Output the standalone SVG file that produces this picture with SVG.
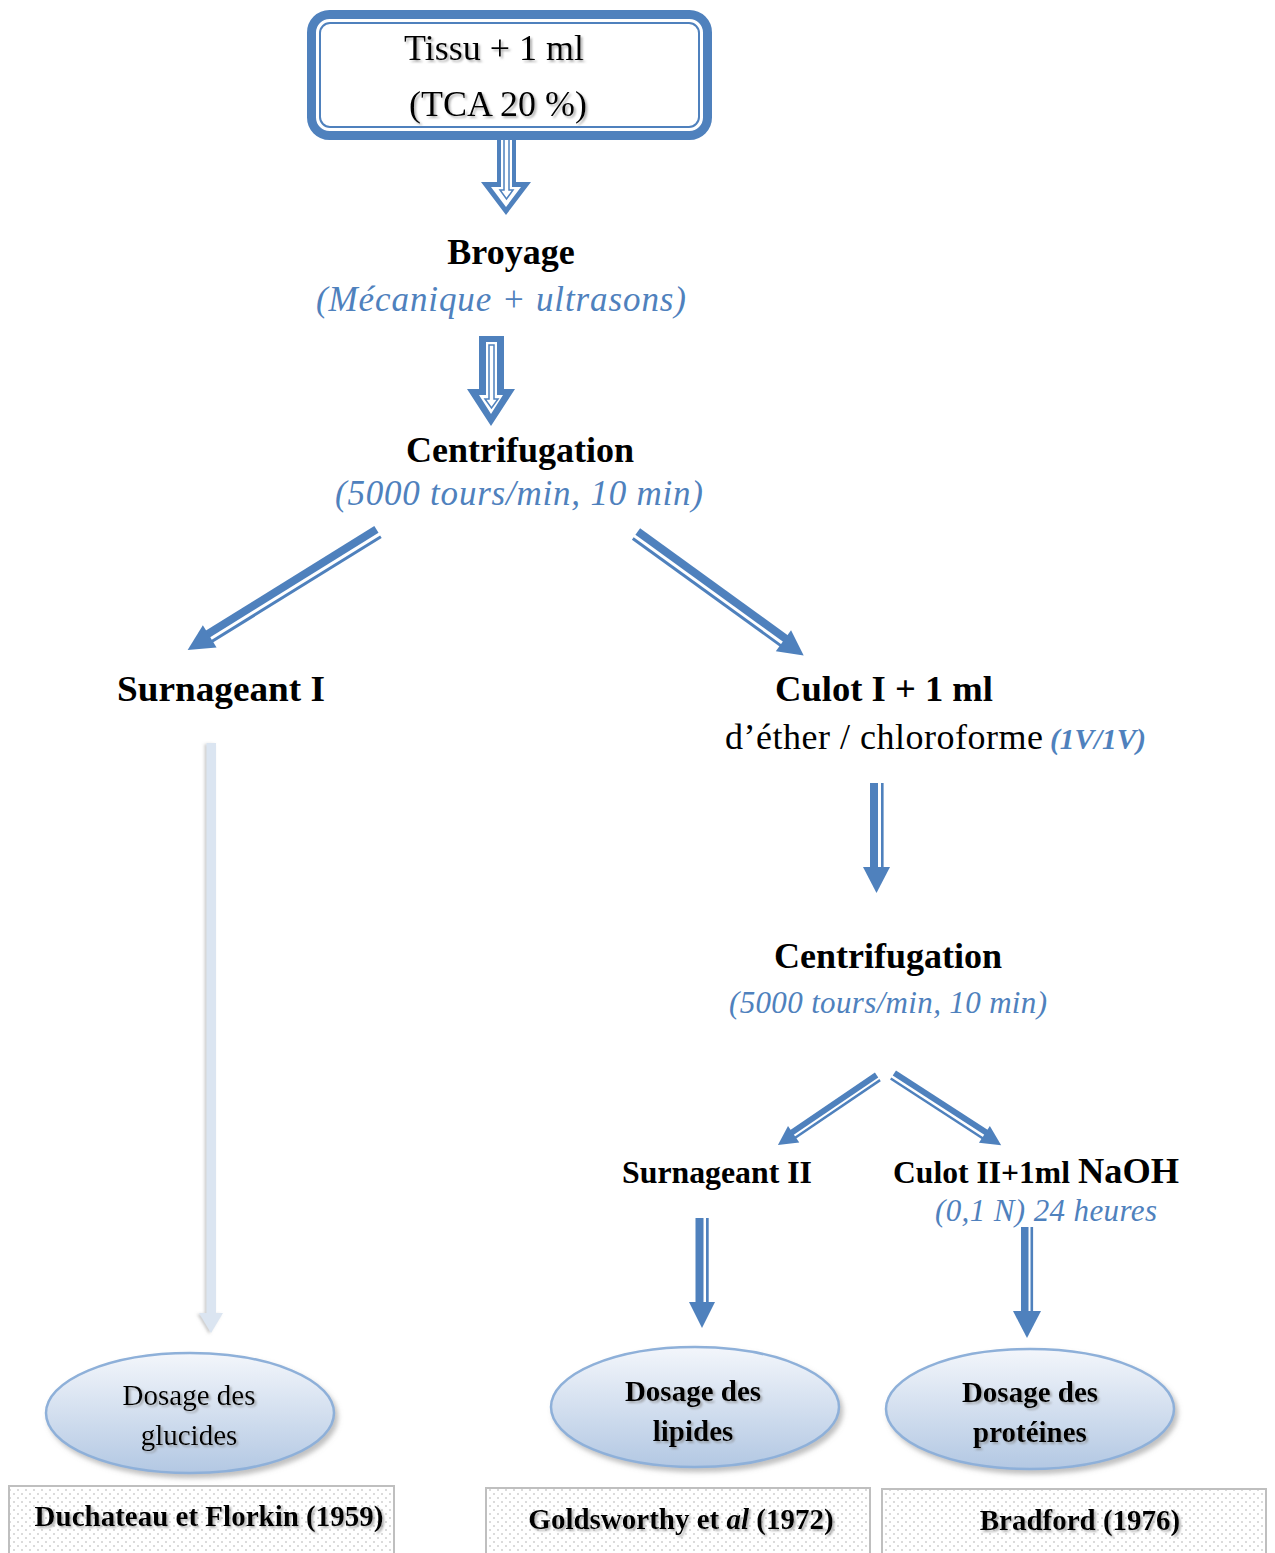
<svg xmlns="http://www.w3.org/2000/svg" width="1275" height="1553" viewBox="0 0 1275 1553">
<defs>
  <style>
    .t{font-family:"Liberation Serif","Times New Roman",serif;fill:#000}
    .b{font-weight:bold}
    .it{font-style:italic;fill:#4f81bd}
    .blue{fill:#4f81bd}
    .ell{fill:url(#eg);stroke:#8eb0d9;stroke-width:2.5}
    .ref{fill:url(#dots);stroke:#bfbfbf;stroke-width:2}
  </style>
  <linearGradient id="eg" x1="0" y1="0" x2="0" y2="1">
    <stop offset="0" stop-color="#f3f6fb"/>
    <stop offset="1" stop-color="#b3c8e3"/>
  </linearGradient>
  <pattern id="dots" width="8" height="8" patternUnits="userSpaceOnUse">
    <rect width="8" height="8" fill="#ffffff"/>
    <circle cx="2" cy="2" r="1" fill="#d0d0d0"/>
    <circle cx="6" cy="6" r="1" fill="#d0d0d0"/>
  </pattern>
  <filter id="ts" x="-10%" y="-30%" width="120%" height="160%">
    <feDropShadow dx="2" dy="2" stdDeviation="1.2" flood-color="#808080" flood-opacity="0.6"/>
  </filter>
  <filter id="es" x="-10%" y="-20%" width="125%" height="150%">
    <feDropShadow dx="3" dy="4" stdDeviation="2.5" flood-color="#808080" flood-opacity="0.5"/>
  </filter>
  <filter id="ls" x="-100%" y="-5%" width="300%" height="110%">
    <feDropShadow dx="-2" dy="1" stdDeviation="1.5" flood-color="#9a9a9a" flood-opacity="0.5"/>
  </filter>
</defs>

<g id="connectors">
  <g id="arrow1">
    <polygon class="blue" points="497,132 516,132 516,182 531,182 506,215 481,182 497,182"/>
    <polygon fill="#fff" points="501,136 512,136 512,187 521,187 506,207 491,187 501,187"/>
    <polygon fill="#fff" stroke="#4f81bd" stroke-width="1.5" points="504,139 509,139 509,190 513,190 506.5,199 500,190 504,190"/>
  </g>
  <g id="arrow2">
    <polygon class="blue" points="479,336 504,336 504,389 515,389 491,426 467,389 479,389"/>
    <polygon fill="#fff" points="486,342 497,342 497,395 503,395 491,414 479,395 486,395"/>
    <polygon fill="#fff" stroke="#4f81bd" stroke-width="1.5" points="489,345 494,345 494,399 498,399 491.5,408 485,399 489,399"/>
  </g>
  <g transform="translate(378,532) rotate(148.2)">
    <rect class="blue" x="0" y="-1" width="200" height="8"/>
    <rect class="blue" x="0" y="-7" width="200" height="3"/>
    <polygon class="blue" points="198,-13 224,0 198,13"/>
  </g>
  <g transform="translate(636,534) rotate(35.9)">
    <rect class="blue" x="0" y="-7" width="184" height="8"/>
    <rect class="blue" x="0" y="4" width="184" height="3"/>
    <polygon class="blue" points="182,-13 207,0 182,13"/>
  </g>
  <g>
    <rect class="blue" x="870" y="783" width="8" height="86"/>
    <rect class="blue" x="881" y="783" width="2.6" height="86"/>
    <polygon class="blue" points="863,867 890,867 876.5,893"/>
  </g>
  <g transform="translate(878,1077) rotate(145.8)">
    <rect class="blue" x="0" y="-0.5" width="104" height="6"/>
    <rect class="blue" x="0" y="-5" width="104" height="2.5"/>
    <polygon class="blue" points="102,-10 121,0 102,10"/>
  </g>
  <g transform="translate(893,1075) rotate(33)">
    <rect class="blue" x="0" y="-5.5" width="111" height="6"/>
    <rect class="blue" x="0" y="3" width="111" height="2.5"/>
    <polygon class="blue" points="109,-10 129,0 109,10"/>
  </g>
  <g>
    <rect class="blue" x="695.5" y="1218" width="8" height="86"/>
    <rect class="blue" x="706" y="1218" width="2.7" height="86"/>
    <polygon class="blue" points="689,1302 715,1302 702,1328"/>
  </g>
  <g>
    <rect class="blue" x="1021" y="1227" width="7.5" height="86"/>
    <rect class="blue" x="1030.5" y="1227" width="2.6" height="86"/>
    <polygon class="blue" points="1013,1311 1041,1311 1027,1338"/>
  </g>
  <g filter="url(#ls)">
    <rect fill="#dbe5f1" x="206.5" y="743" width="9.5" height="572"/>
    <polygon fill="#dbe5f1" points="199,1313 223,1313 211,1333"/>
  </g>
</g>

<g id="node-tissu">
  <rect x="311.5" y="14.5" width="396" height="121" rx="18" fill="#fff" stroke="#4f81bd" stroke-width="9"/>
  <rect x="320" y="23" width="379" height="104" rx="10" fill="none" stroke="#4f81bd" stroke-width="2"/>
  <g filter="url(#ts)">
    <text class="t" x="494" y="60" font-size="36" text-anchor="middle">Tissu + 1 ml</text>
    <text class="t" x="498" y="116" font-size="36" text-anchor="middle">(TCA 20 %)</text>
  </g>
</g>

<g id="node-broyage">
  <text class="t b" x="511" y="264" font-size="36" text-anchor="middle">Broyage</text>
  <text class="t it" x="501" y="311" font-size="35" text-anchor="middle" textLength="370" lengthAdjust="spacing">(Mécanique + ultrasons)</text>
</g>

<g id="node-centrifugation1">
  <text class="t b" x="520" y="462" font-size="36" text-anchor="middle">Centrifugation</text>
  <text class="t it" x="519" y="505" font-size="35" text-anchor="middle" textLength="368" lengthAdjust="spacing">(5000 tours/min, 10 min)</text>
</g>

<g id="node-surnageant1">
  <text class="t b" x="117" y="701" font-size="36" textLength="208" lengthAdjust="spacingAndGlyphs">Surnageant I</text>
</g>

<g id="node-culot1">
  <text class="t b" x="775" y="701" font-size="36" textLength="218" lengthAdjust="spacingAndGlyphs">Culot I + 1 ml</text>
  <text class="t" x="725" y="749" font-size="36" textLength="318" lengthAdjust="spacing">d’éther / chloroforme</text>
  <text class="t b" x="1050" y="749" font-size="29" font-style="italic" fill="#4f81bd" style="fill:#4f81bd" textLength="96" lengthAdjust="spacingAndGlyphs">(1V/1V)</text>
</g>

<g id="node-centrifugation2">
  <text class="t b" x="888" y="968" font-size="36" text-anchor="middle">Centrifugation</text>
  <text class="t it" x="888" y="1013" font-size="31" text-anchor="middle" textLength="318" lengthAdjust="spacing">(5000 tours/min, 10 min)</text>
</g>

<g id="node-surnageant2">
  <text class="t b" x="622" y="1183" font-size="31" textLength="190" lengthAdjust="spacingAndGlyphs">Surnageant II</text>
</g>

<g id="node-culot2">
  <text class="t b" x="893" y="1183" font-size="31" textLength="177" lengthAdjust="spacingAndGlyphs">Culot II+1ml</text>
  <text class="t b" x="1078" y="1183" font-size="36" textLength="101" lengthAdjust="spacingAndGlyphs">NaOH</text>
  <text class="t it" x="935" y="1221" font-size="31" textLength="222" lengthAdjust="spacing">(0,1 N) 24 heures</text>
</g>

<g id="node-glucides">
  <ellipse class="ell" cx="190" cy="1413" rx="144" ry="60" filter="url(#es)"/>
  <g filter="url(#ts)">
    <text class="t" x="189" y="1405" font-size="29" text-anchor="middle">Dosage des</text>
    <text class="t" x="189" y="1445" font-size="29" text-anchor="middle">glucides</text>
  </g>
</g>

<g id="node-lipides">
  <ellipse class="ell" cx="695" cy="1407" rx="144" ry="60" filter="url(#es)"/>
  <g filter="url(#ts)">
    <text class="t b" x="693" y="1401" font-size="29" text-anchor="middle">Dosage des</text>
    <text class="t b" x="693" y="1441" font-size="29" text-anchor="middle">lipides</text>
  </g>
</g>

<g id="node-proteines">
  <ellipse class="ell" cx="1030" cy="1409" rx="144" ry="60" filter="url(#es)"/>
  <g filter="url(#ts)">
    <text class="t b" x="1030" y="1402" font-size="29" text-anchor="middle">Dosage des</text>
    <text class="t b" x="1030" y="1442" font-size="29" text-anchor="middle">protéines</text>
  </g>
</g>

<g id="ref-duchateau">
  <rect class="ref" x="9" y="1486" width="385" height="80"/>
  <text class="t b" x="209" y="1526" font-size="29" text-anchor="middle" filter="url(#ts)">Duchateau et Florkin (1959)</text>
</g>

<g id="ref-goldsworthy">
  <rect class="ref" x="486" y="1488" width="384" height="80"/>
  <text class="t b" x="681" y="1529" font-size="29" text-anchor="middle" filter="url(#ts)">Goldsworthy et <tspan font-style="italic">al</tspan> (1972)</text>
</g>

<g id="ref-bradford">
  <rect class="ref" x="882" y="1489" width="384" height="80"/>
  <text class="t b" x="1080" y="1530" font-size="29" text-anchor="middle" filter="url(#ts)">Bradford (1976)</text>
</g>
</svg>
